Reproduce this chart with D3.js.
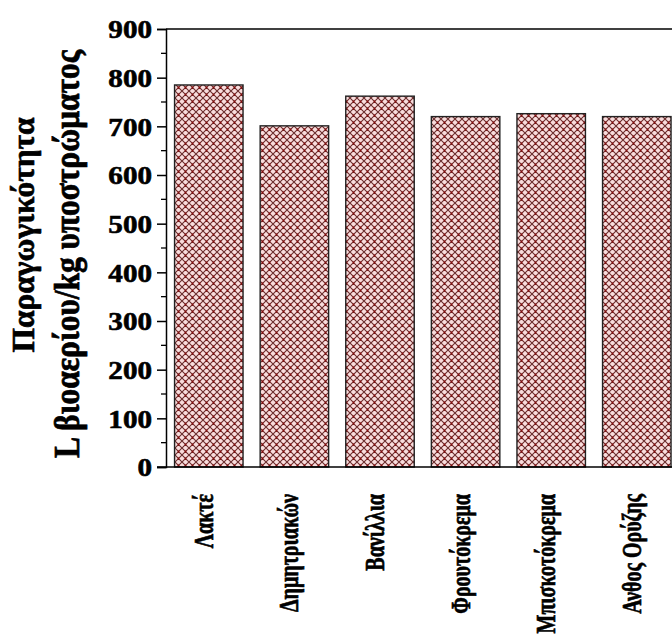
<!DOCTYPE html>
<html>
<head>
<meta charset="utf-8">
<script src="https://cdn.jsdelivr.net/npm/d3@7/dist/d3.min.js"></script>
<style>
  html, body { margin: 0; padding: 0; background: #ffffff; }
  svg { display: block; }
  text { font-family: "Liberation Serif", "Times New Roman", serif; font-weight: bold; fill: #000; stroke: #000; stroke-width: 0.6px; }
</style>
</head>
<body>
<script>
// Biogas yield per substrate (L biogas / kg substrate)
const categories = ["Λακτέ", "Δημητριακών", "Βανίλλια", "Φρουτόκρεμα", "Μπισκοτόκρεμα", "Ανθος Ορύζης"];
const yieldValues = [785, 701, 762, 720, 726, 720];
const yTicks = [0, 100, 200, 300, 400, 500, 600, 700, 800, 900];
const yMinorTicks = [50, 150, 250, 350, 450, 550, 650, 750, 850];
const titleLines = ["Παραγωγικότητα", "L βιοαερίου/kg υποστρώματος"];

const W = 672, H = 644;
const plotLeft = 166, plotTop = 29, plotBottom = 467;

const svg = d3.select("body").append("svg").attr("width", W).attr("height", H);

// crosshatch fill
const defs = svg.append("defs");
const pat = defs.append("pattern")
  .attr("id", "hatch").attr("patternUnits", "userSpaceOnUse")
  .attr("width", 7).attr("height", 7);
pat.append("rect").attr("width", 7).attr("height", 7).attr("fill", "#f9dcdc");
pat.append("circle").attr("cx", 3.5).attr("cy", 3.5).attr("r", 1.6).attr("fill", "#ffffff");
pat.append("path").attr("d", "M0,0L7,7M7,0L0,7M-1,6L1,8M6,-1L8,1M-1,1L1,-1M6,8L8,6")
  .attr("stroke", "#6a2c2c").attr("stroke-width", 1.1);
pat.append("rect").attr("x", 2.5).attr("y", 2.5).attr("width", 2).attr("height", 2).attr("fill", "#8b0c0c");

const y = d3.scaleLinear().domain([0, 900]).range([plotBottom, plotTop]);
const x = d3.scaleBand().domain(categories).range([plotLeft, plotLeft + 6 * 85.6])
  .paddingInner(0.2).paddingOuter(0.1);

// bars
svg.append("g").selectAll("rect").data(categories).join("rect")
  .attr("x", d => x(d))
  .attr("y", (d, i) => y(yieldValues[i]))
  .attr("width", x.bandwidth())
  .attr("height", (d, i) => y(0) - y(yieldValues[i]))
  .attr("fill", "url(#hatch)")
  .attr("stroke", "#222").attr("stroke-width", 1.4);

// frame: top and bottom lines
svg.append("line").attr("x1", plotLeft).attr("x2", W).attr("y1", plotTop).attr("y2", plotTop)
  .attr("stroke", "#000").attr("stroke-width", 1.5);
svg.append("line").attr("x1", plotLeft - 9).attr("x2", W).attr("y1", plotBottom).attr("y2", plotBottom)
  .attr("stroke", "#000").attr("stroke-width", 1.5);

// y axis
const yAxis = d3.axisLeft(y).tickValues(yTicks).tickSize(9).tickFormat(d3.format("d"));
const ga = svg.append("g").attr("transform", `translate(${plotLeft},0)`).call(yAxis);
ga.select(".domain").attr("stroke", "#000").attr("stroke-width", 1.5);
ga.selectAll(".tick line").attr("stroke", "#000").attr("stroke-width", 1.5);
ga.selectAll(".tick text").remove();
ga.selectAll(".tick").append("text")
  .attr("transform", "translate(-14,0) scale(1.12,1)")
  .attr("text-anchor", "end").attr("dy", "0.34em")
  .style("font-size", "26px")
  .text(d => d);

svg.append("g").selectAll("line").data(yMinorTicks).join("line")
  .attr("x1", plotLeft - 5).attr("x2", plotLeft)
  .attr("y1", d => y(d)).attr("y2", d => y(d))
  .attr("stroke", "#000").attr("stroke-width", 1.3);

// category labels
svg.append("g").selectAll("text").data(categories).join("text")
  .attr("transform", d => `translate(${x(d) + x.bandwidth() / 2 + 4},494) scale(1.35,1) rotate(-90)`)
  .attr("text-anchor", "end")
  .style("font-size", "20px")
  .style("stroke-width", "0.5px")
  .text(d => d);

// y axis title, two lines
svg.append("text")
  .attr("transform", "translate(34,235) scale(1.05,1) rotate(-90)")
  .attr("text-anchor", "middle")
  .attr("textLength", 235).attr("lengthAdjust", "spacingAndGlyphs")
  .style("font-size", "30px")
  .text(titleLines[0]);
svg.append("text")
  .attr("transform", "translate(79,254) scale(1.25,1) rotate(-90)")
  .attr("text-anchor", "middle")
  .attr("textLength", 408).attr("lengthAdjust", "spacingAndGlyphs")
  .style("font-size", "28px")
  .text(titleLines[1]);
</script>
</body>
</html>
